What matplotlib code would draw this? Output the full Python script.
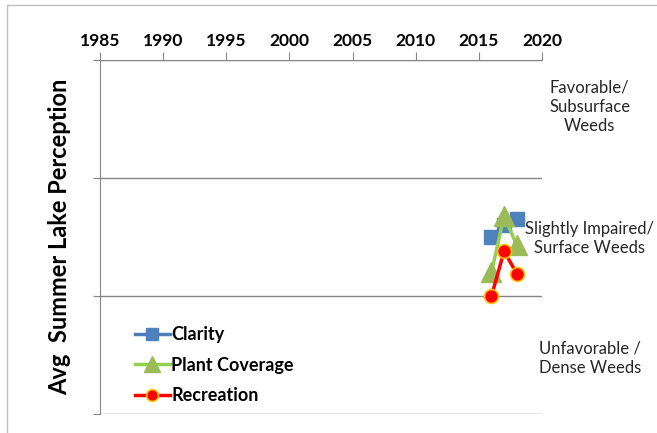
import matplotlib.pyplot as plt
from matplotlib.patches import Rectangle

# ---------------- DATA ----------------
years = [2016, 2017, 2018]
clarity = [1.50, 1.60, 1.65]
plant_coverage = [1.20, 1.68, 1.43]
recreation = [1.00, 1.38, 1.19]

x_ticks = [1985, 1990, 1995, 2000, 2005, 2010, 2015, 2020]
zones = ["Unfavorable /\nDense Weeds",
         "Slightly Impaired/\nSurface Weeds",
         "Favorable/\nSubsurface\nWeeds"]
zone_y = [0.475, 1.49, 2.60]

plt.rcParams['font.family'] = ['Lato', 'DejaVu Sans']

fig = plt.figure(figsize=(6.57, 4.33), dpi=100)
fig.patches.append(Rectangle((7 / 657, -0.1), 1.2, 1 - 5 / 433 + 0.1,
                             transform=fig.transFigure, fill=False,
                             edgecolor="#bfbfbf", linewidth=1))
ax = fig.add_axes([100 / 657, 19 / 433, 442 / 657, 354 / 433])

# ---------------- SERIES ----------------
ax.plot(years, clarity, color="#4a7ebb", linewidth=2.5, marker="s",
        markersize=10, markerfacecolor="#4f81bd", markeredgecolor="#4f81bd",
        label="Clarity", zorder=3)
ax.plot(years, plant_coverage, color="#92d050", linewidth=2.5, marker="^",
        markersize=14, markerfacecolor="#9bbb59", markeredgecolor="#9bbb59",
        label="Plant Coverage", zorder=4)
ax.plot(years, recreation, color="#ff0000", linewidth=2.5, marker="o",
        markersize=10, markerfacecolor="#ff0000", markeredgecolor="#ffc000",
        markeredgewidth=1.2, label="Recreation", zorder=5)

# ---------------- AXES ----------------
ax.set_xlim(1985, 2020)
ax.set_ylim(0, 3)
ax.xaxis.tick_top()
ax.set_xticks(x_ticks)
ax.set_xticklabels([str(t) for t in x_ticks], fontsize=12.5, fontweight="bold")
ax.tick_params(axis="x", direction="out", length=6, color="#868686", pad=2)
ax.set_yticks([0, 1, 2, 3])
ax.set_yticklabels([])
ax.tick_params(axis="y", direction="out", length=5, color="#868686")
ax.yaxis.grid(True, color="#868686", linewidth=1)
ax.set_axisbelow(True)
for side in ["right", "bottom"]:
    ax.spines[side].set_visible(False)
for side in ["top", "left"]:
    ax.spines[side].set_color("#868686")
ax.set_ylabel("Avg  Summer Lake Perception", fontsize=17, fontweight="bold",
              labelpad=12)

# ---------------- ZONE LABELS ----------------
for z, y in zip(zones, zone_y):
    ax.text(1.108, y, z, transform=ax.get_yaxis_transform(), ha="center",
            va="center", fontsize=12, linespacing=1.25, color="#262626")

ax.legend(loc="lower left", bbox_to_anchor=(0.043, -0.018), frameon=False,
          prop={"weight": "bold", "size": 13}, handlelength=1.9,
          handletextpad=0.1, labelspacing=0.75, markerscale=0.85)

plt.savefig("out.png", dpi=100)
